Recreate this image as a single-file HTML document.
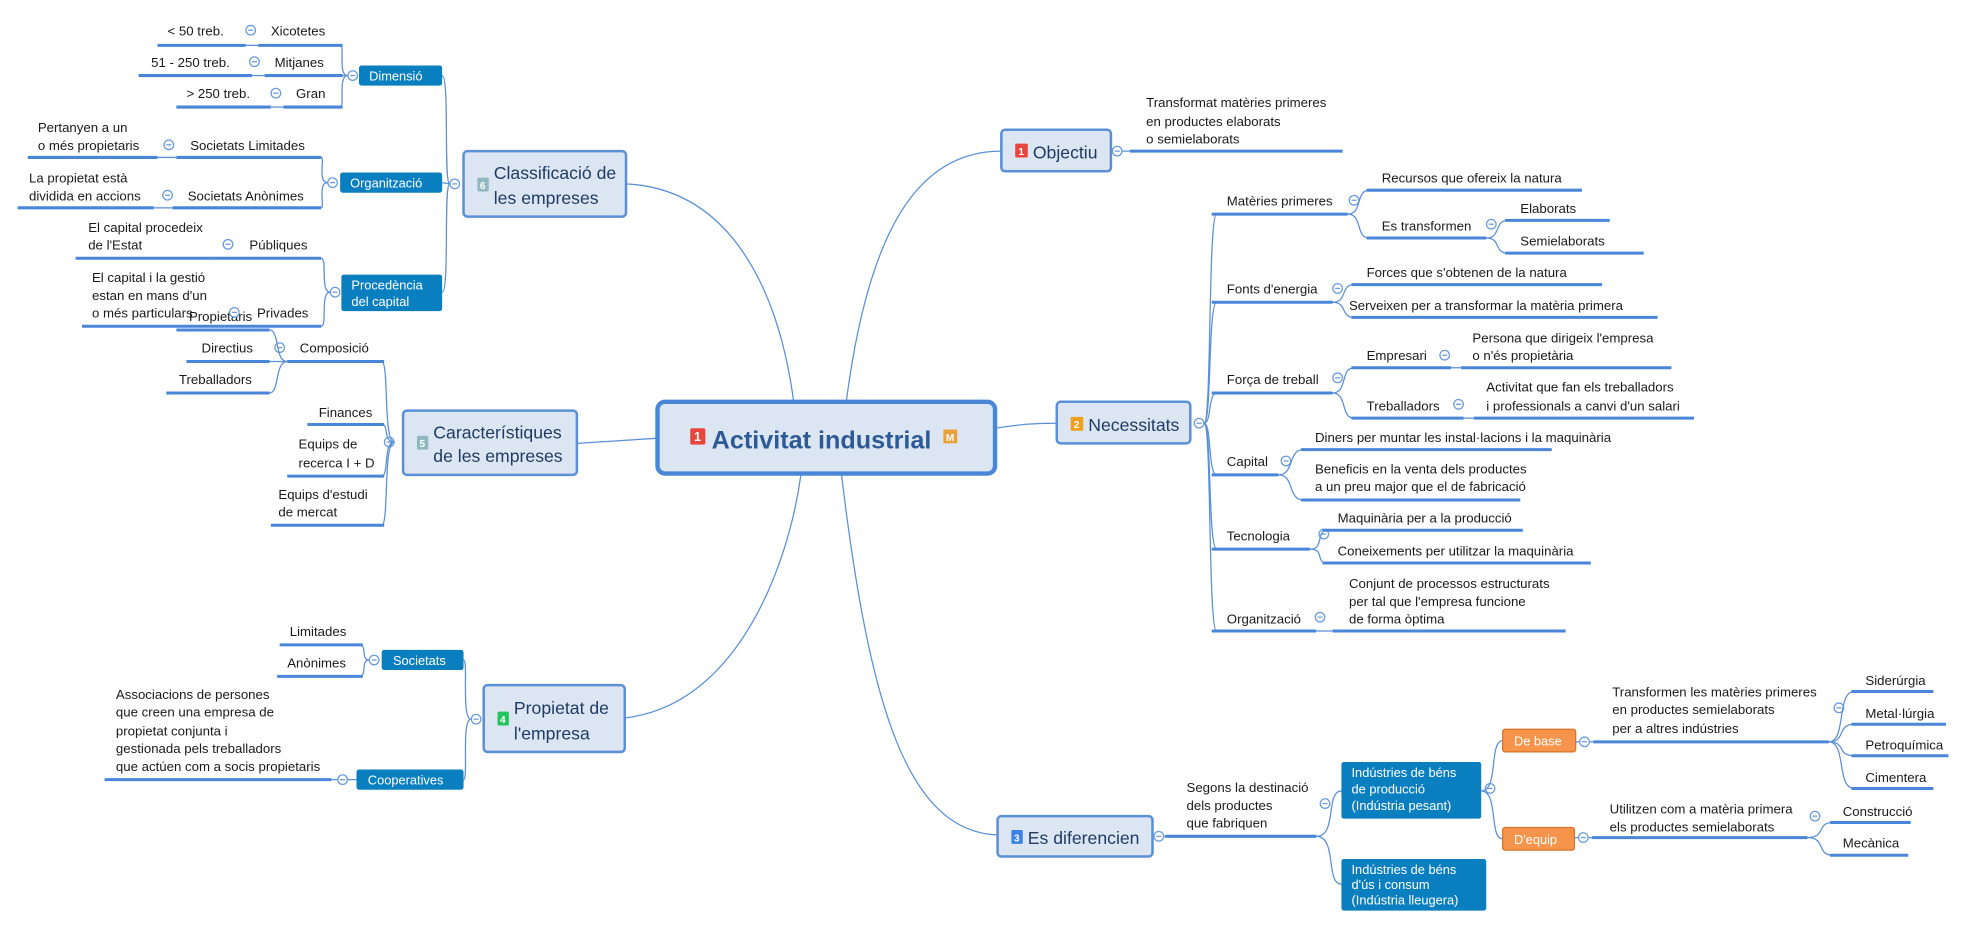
<!DOCTYPE html>
<html><head><meta charset="utf-8"><style>
html,body{margin:0;padding:0;background:#fff;}
svg{display:block;}
text{font-family:"Liberation Sans",sans-serif;font-size:10.5px;fill:#1a1a1a;}
.t{font-size:14px;fill:#1f3b63;}
.w{fill:#fff;font-size:10.2px;}
.b{font-size:8px;fill:#fff;font-weight:bold;}
.u{stroke:#4a86d8;stroke-width:2.4;fill:none;}
.c{stroke:#5b8fd6;stroke-width:1;fill:none;}
.box{fill:#dce6f2;stroke:#5b8fd6;stroke-width:2;}
.sb{fill:#0a7fc0;}
.ob{fill:#f5944a;stroke:#d9742a;stroke-width:1;}
.ci{fill:#fff;stroke:#6a9ad8;stroke-width:1;}
</style></head><body>
<svg width="1975" height="927" viewBox="0 0 1568 736" xmlns="http://www.w3.org/2000/svg">
<defs>
<g id="cir"><circle r="3.8" class="ci"/><line x1="-2" y1="0" x2="2" y2="0" stroke="#6a9ad8" stroke-width="1"/></g>
</defs>

<path class="c" d="M497,146 C580,150 618,230 630,318"/>
<path class="c" d="M672,318 C690,180 730,120 795,120"/>
<path class="c" d="M496,570 C585,560 626,450 636,376"/>
<path class="c" d="M668,376 C690,560 720,660 792,663"/>
<path class="c" d="M458,352 L521,348"/>
<path class="c" d="M790,340 C810,337 820,336 839,336"/>

<rect x="522" y="319" width="268" height="57" rx="6" fill="#dce6f2" stroke="#4a86d8" stroke-width="3.5"/>
<rect x="548" y="340" width="12" height="13" rx="1.5" fill="#e8453c"/><text x="551" y="350" class="b" style="font-size:10px">1</text>
<text x="565" y="356" style="font-size:20px;font-weight:bold;fill:#2e5a96">Activitat industrial</text>
<rect x="749" y="341" width="11" height="11" fill="#e9a23b"/><text x="751" y="350" class="b">M</text>

<rect x="795" y="103" width="87" height="33" rx="3" class="box"/>
<rect x="806" y="114" width="10" height="11" rx="1" fill="#e8453c"/><text x="808.5" y="123" class="b">1</text>
<text x="820" y="126" class="t">Objectiu</text>
<line class="c" x1="882" y1="120" x2="897" y2="120"/><use href="#cir" x="887" y="120"/>
<line class="u" x1="897" y1="120" x2="1066" y2="120"/>
<text x="910" y="85">Transformat matèries primeres</text>
<text x="910" y="100">en productes elaborats</text>
<text x="910" y="114">o semielaborats</text>

<rect x="839" y="319" width="106" height="33" rx="3" class="box"/>
<rect x="850" y="331" width="10" height="11" rx="1" fill="#f0a020"/><text x="852.5" y="340" class="b">2</text>
<text x="864" y="342" class="t">Necessitats</text>
<use href="#cir" x="952" y="336"/>
<path class="c" d="M956,336 C962,336 959,170 966,170"/>
<path class="c" d="M956,336 C962,336 959,240 966,240"/>
<path class="c" d="M956,336 C962,336 959,312 966,312"/>
<path class="c" d="M956,336 C962,336 959,377 966,377"/>
<path class="c" d="M956,336 C962,336 959,436 966,436"/>
<path class="c" d="M956,336 C962,336 959,501 966,501"/>

<text x="974" y="163">Matèries primeres</text><line class="u" x1="962" y1="170" x2="1070" y2="170"/><use href="#cir" x="1075" y="159"/>
<path class="c" d="M1070,170 C1082,170 1076,151 1087,151"/><path class="c" d="M1070,170 C1082,170 1076,189 1087,189"/>
<text x="1097" y="145">Recursos que ofereix la natura</text><line class="u" x1="1085" y1="151" x2="1256" y2="151"/>
<text x="1097" y="183">Es transformen</text><line class="u" x1="1085" y1="189" x2="1180" y2="189"/><use href="#cir" x="1184" y="178"/>
<path class="c" d="M1180,189 C1192,189 1186,175 1197,175"/><path class="c" d="M1180,189 C1192,189 1186,201 1197,201"/>
<text x="1207" y="169">Elaborats</text><line class="u" x1="1195" y1="175" x2="1278" y2="175"/>
<text x="1207" y="195">Semielaborats</text><line class="u" x1="1195" y1="201" x2="1305" y2="201"/>

<text x="974" y="233">Fonts d'energia</text><line class="u" x1="962" y1="240" x2="1058" y2="240"/><use href="#cir" x="1062" y="229"/>
<path class="c" d="M1058,240 C1070,240 1064,226 1075,226"/><path class="c" d="M1058,240 C1070,240 1064,252 1075,252"/>
<text x="1085" y="220">Forces que s'obtenen de la natura</text><line class="u" x1="1073" y1="226" x2="1272" y2="226"/>
<text x="1071" y="246">Serveixen per a transformar la matèria primera</text><line class="u" x1="1073" y1="252" x2="1316" y2="252"/>

<text x="974" y="305">Força de treball</text><line class="u" x1="962" y1="312" x2="1058" y2="312"/><use href="#cir" x="1062" y="300"/>
<path class="c" d="M1058,312 C1070,312 1064,292 1075,292"/><path class="c" d="M1058,312 C1070,312 1064,332 1075,332"/>
<text x="1085" y="286">Empresari</text><line class="u" x1="1073" y1="292" x2="1152" y2="292"/><use href="#cir" x="1147" y="282"/>
<line class="c" x1="1152" y1="292" x2="1160" y2="292"/>
<text x="1169" y="272">Persona que dirigeix l'empresa</text><text x="1169" y="286">o n'és propietària</text><line class="u" x1="1160" y1="292" x2="1327" y2="292"/>
<text x="1085" y="326">Treballadors</text><line class="u" x1="1073" y1="332" x2="1162" y2="332"/><use href="#cir" x="1158" y="321"/>
<line class="c" x1="1162" y1="332" x2="1170" y2="332"/>
<text x="1180" y="311">Activitat que fan els treballadors</text><text x="1180" y="326">i professionals a canvi d'un salari</text><line class="u" x1="1170" y1="332" x2="1345" y2="332"/>

<text x="974" y="370">Capital</text><line class="u" x1="962" y1="377" x2="1015" y2="377"/><use href="#cir" x="1021" y="366"/>
<path class="c" d="M1015,377 C1028,377 1022,357 1035,357"/><path class="c" d="M1015,377 C1028,377 1022,397 1035,397"/>
<text x="1044" y="351">Diners per muntar les instal·lacions i la maquinària</text><line class="u" x1="1033" y1="357" x2="1232" y2="357"/>
<text x="1044" y="376">Beneficis en la venta dels productes</text><text x="1044" y="390">a un preu major que el de fabricació</text><line class="u" x1="1033" y1="397" x2="1207" y2="397"/>

<text x="974" y="429">Tecnologia</text><line class="u" x1="962" y1="436" x2="1040" y2="436"/><use href="#cir" x="1051" y="424"/>
<path class="c" d="M1040,436 C1052,436 1044,421 1054,421"/><path class="c" d="M1040,436 C1052,436 1044,447 1054,447"/>
<text x="1062" y="415">Maquinària per a la producció</text><line class="u" x1="1050" y1="421" x2="1209" y2="421"/>
<text x="1062" y="441">Coneixements per utilitzar la maquinària</text><line class="u" x1="1050" y1="447" x2="1263" y2="447"/>

<text x="974" y="495">Organització</text><line class="u" x1="962" y1="501" x2="1045" y2="501"/><use href="#cir" x="1048" y="490"/>
<line class="c" x1="1045" y1="501" x2="1058" y2="501"/>
<text x="1071" y="467">Conjunt de processos estructurats</text><text x="1071" y="481">per tal que l'empresa funcione</text><text x="1071" y="495">de forma òptima</text>
<line class="u" x1="1058" y1="501" x2="1243" y2="501"/>

<rect x="792" y="648" width="123" height="32" rx="3" class="box"/>
<rect x="803" y="659" width="9" height="11" rx="1" fill="#3b82e8"/><text x="805" y="668" class="b">3</text>
<text x="816" y="670" class="t">Es diferencien</text>
<line class="c" x1="915" y1="664" x2="925" y2="664"/><use href="#cir" x="920" y="664"/>
<text x="942" y="629">Segons la destinació</text><text x="942" y="643">dels productes</text><text x="942" y="657">que fabriquen</text>
<line class="u" x1="925" y1="664" x2="1045" y2="664"/><use href="#cir" x="1052" y="638"/>
<path class="c" d="M1045,664 C1062,664 1052,628 1065,628"/><path class="c" d="M1045,664 C1062,664 1052,702 1065,702"/>
<rect x="1065" y="605" width="111" height="45" rx="2" class="sb"/>
<text x="1073" y="617" class="w">Indústries de béns</text><text x="1073" y="630" class="w">de producció</text><text x="1073" y="643" class="w">(Indústria pesant)</text>
<rect x="1065" y="682" width="115" height="41" rx="2" class="sb"/>
<text x="1073" y="694" class="w">Indústries de béns</text><text x="1073" y="706" class="w">d'ús i consum</text><text x="1073" y="718" class="w">(Indústria lleugera)</text>
<use href="#cir" x="1183" y="626"/>
<path class="c" d="M1176,628 C1190,628 1182,588 1193,588"/><path class="c" d="M1176,628 C1190,628 1182,666 1193,666"/>
<rect x="1193" y="579" width="58" height="18" rx="2" class="ob"/><text x="1202" y="592" class="w">De base</text>
<rect x="1193" y="657" width="57" height="18" rx="2" class="ob"/><text x="1202" y="670" class="w">D'equip</text>
<line class="c" x1="1251" y1="589" x2="1265" y2="589"/><use href="#cir" x="1258" y="589"/>
<line class="u" x1="1265" y1="589" x2="1452" y2="589"/>
<text x="1280" y="553">Transformen les matèries primeres</text><text x="1280" y="567">en productes semielaborats</text><text x="1280" y="582">per a altres indústries</text>
<use href="#cir" x="1460" y="562"/>
<path class="c" d="M1452,589 C1466,589 1458,549 1472,549"/><path class="c" d="M1452,589 C1466,589 1458,575 1472,575"/>
<path class="c" d="M1452,589 C1466,589 1458,600 1472,600"/><path class="c" d="M1452,589 C1466,589 1458,626 1472,626"/>
<text x="1481" y="544">Siderúrgia</text><line class="u" x1="1470" y1="549" x2="1535" y2="549"/>
<text x="1481" y="570">Metal·lúrgia</text><line class="u" x1="1470" y1="575" x2="1545" y2="575"/>
<text x="1481" y="595">Petroquímica</text><line class="u" x1="1470" y1="600" x2="1547" y2="600"/>
<text x="1481" y="621">Cimentera</text><line class="u" x1="1470" y1="626" x2="1535" y2="626"/>
<line class="c" x1="1250" y1="665" x2="1264" y2="665"/><use href="#cir" x="1257" y="665"/>
<line class="u" x1="1264" y1="665" x2="1435" y2="665"/>
<text x="1278" y="646">Utilitzen com a matèria primera</text><text x="1278" y="660">els productes semielaborats</text>
<use href="#cir" x="1441" y="648"/>
<path class="c" d="M1435,665 C1450,665 1442,653 1455,653"/><path class="c" d="M1435,665 C1450,665 1442,679 1455,679"/>
<text x="1463" y="648">Construcció</text><line class="u" x1="1453" y1="653" x2="1517" y2="653"/>
<text x="1463" y="673">Mecànica</text><line class="u" x1="1453" y1="679" x2="1515" y2="679"/>

<rect x="384" y="544" width="112" height="53" rx="3" class="box"/>
<rect x="395" y="565" width="9" height="11" rx="1" fill="#22c55e"/><text x="397" y="574" class="b">4</text>
<text x="408" y="567" class="t">Propietat de</text><text x="408" y="587" class="t">l'empresa</text>
<use href="#cir" x="378" y="571"/>
<path class="c" d="M374,571 C366,571 372,524 368,524"/><path class="c" d="M374,571 C366,571 372,619 368,619"/>
<rect x="303" y="516" width="65" height="16" rx="2" class="sb"/><text x="312" y="528" class="w">Societats</text>
<rect x="283" y="611" width="85" height="16" rx="2" class="sb"/><text x="292" y="623" class="w">Cooperatives</text>
<use href="#cir" x="297" y="524"/>
<path class="c" d="M293,524 C286,524 292,512 285,512"/><path class="c" d="M293,524 C286,524 292,537 285,537"/>
<text x="230" y="505">Limitades</text><line class="u" x1="222" y1="512" x2="288" y2="512"/>
<text x="228" y="530">Anònimes</text><line class="u" x1="220" y1="537" x2="288" y2="537"/>
<line class="c" x1="263" y1="619" x2="283" y2="619"/><use href="#cir" x="272" y="619"/>
<line class="u" x1="83" y1="619" x2="263" y2="619"/>
<text x="92" y="555">Associacions de persones</text><text x="92" y="569">que creen una empresa de</text><text x="92" y="584">propietat conjunta i</text><text x="92" y="598">gestionada pels treballadors</text><text x="92" y="612">que actúen com a socis propietaris</text>

<rect x="320" y="326" width="138" height="51" rx="3" class="box"/>
<rect x="331" y="346" width="9" height="11" rx="1" fill="#8fb8c0"/><text x="333" y="355" class="b">5</text>
<text x="344" y="348" class="t">Característiques</text><text x="344" y="367" class="t">de les empreses</text>
<use href="#cir" x="309" y="351"/>
<path class="c" d="M313,351 C304,351 309,287 303,287"/><path class="c" d="M313,351 C304,351 309,337 303,337"/>
<path class="c" d="M313,351 C304,351 309,378 303,378"/><path class="c" d="M313,351 C304,351 309,417 303,417"/>
<text x="238" y="280">Composició</text><line class="u" x1="228" y1="287" x2="305" y2="287"/><use href="#cir" x="222" y="276"/>
<path class="c" d="M228,287 C218,287 222,262 214,262"/><path class="c" d="M228,287 L214,287"/><path class="c" d="M228,287 C218,287 222,312 214,312"/>
<text x="150" y="255">Propietaris</text><line class="u" x1="140" y1="262" x2="214" y2="262"/>
<text x="160" y="280">Directius</text><line class="u" x1="148" y1="287" x2="214" y2="287"/>
<text x="142" y="305">Treballadors</text><line class="u" x1="132" y1="312" x2="214" y2="312"/>
<text x="253" y="331">Finances</text><line class="u" x1="244" y1="337" x2="305" y2="337"/>
<text x="237" y="356">Equips de</text><text x="237" y="371">recerca I + D</text><line class="u" x1="228" y1="378" x2="305" y2="378"/>
<text x="221" y="396">Equips d'estudi</text><text x="221" y="410">de mercat</text><line class="u" x1="215" y1="417" x2="305" y2="417"/>

<rect x="368" y="120" width="129" height="52" rx="3" class="box"/>
<rect x="379" y="141" width="9" height="11" rx="1" fill="#8fb8c0"/><text x="381" y="150" class="b">6</text>
<text x="392" y="142" class="t">Classificació de</text><text x="392" y="162" class="t">les empreses</text>
<use href="#cir" x="361" y="146"/>
<path class="c" d="M357,146 C352,146 357,60 351,60"/><path class="c" d="M357,146 L351,145"/><path class="c" d="M357,146 C352,146 357,232 351,232"/>
<rect x="285" y="52" width="66" height="16" rx="2" class="sb"/><text x="293" y="64" class="w">Dimensió</text>
<rect x="270" y="137" width="81" height="16" rx="2" class="sb"/><text x="278" y="149" class="w">Organització</text>
<rect x="271" y="218" width="80" height="29" rx="2" class="sb"/><text x="279" y="230" class="w">Procedència</text><text x="279" y="243" class="w">del capital</text>
<use href="#cir" x="280" y="60"/>
<path class="c" d="M276,60 C268,60 274,36 270,36"/><path class="c" d="M276,60 L270,60"/><path class="c" d="M276,60 C268,60 274,85 270,85"/>
<text x="215" y="28">Xicotetes</text><line class="u" x1="205" y1="36" x2="272" y2="36"/><use href="#cir" x="199" y="24"/>
<line class="c" x1="195" y1="36" x2="205" y2="36"/>
<text x="133" y="28">&lt; 50 treb.</text><line class="u" x1="125" y1="36" x2="195" y2="36"/>
<text x="218" y="53">Mitjanes</text><line class="u" x1="210" y1="60" x2="272" y2="60"/><use href="#cir" x="202" y="49"/>
<line class="c" x1="200" y1="60" x2="210" y2="60"/>
<text x="120" y="53">51 - 250 treb.</text><line class="u" x1="110" y1="60" x2="200" y2="60"/>
<text x="235" y="78">Gran</text><line class="u" x1="225" y1="85" x2="272" y2="85"/><use href="#cir" x="219" y="74"/>
<line class="c" x1="215" y1="85" x2="225" y2="85"/>
<text x="148" y="78">&gt; 250 treb.</text><line class="u" x1="140" y1="85" x2="215" y2="85"/>

<use href="#cir" x="264" y="145"/>
<path class="c" d="M260,145 C252,145 258,125 255,125"/><path class="c" d="M260,145 C252,145 258,165 255,165"/>
<text x="151" y="119">Societats Limitades</text><line class="u" x1="140" y1="125" x2="255" y2="125"/><use href="#cir" x="134" y="115"/>
<line class="c" x1="125" y1="125" x2="140" y2="125"/>
<text x="30" y="105">Pertanyen a un</text><text x="30" y="119">o més propietaris</text><line class="u" x1="22" y1="125" x2="125" y2="125"/>
<text x="149" y="159">Societats Anònimes</text><line class="u" x1="137" y1="165" x2="255" y2="165"/><use href="#cir" x="133" y="155"/>
<line class="c" x1="122" y1="165" x2="137" y2="165"/>
<text x="23" y="145">La propietat està</text><text x="23" y="159">dividida en accions</text><line class="u" x1="14" y1="165" x2="122" y2="165"/>

<use href="#cir" x="266" y="232"/>
<path class="c" d="M262,232 C254,232 260,205 255,205"/><path class="c" d="M262,232 C254,232 260,259 255,259"/>
<text x="198" y="198">Públiques</text><line class="u" x1="170" y1="205" x2="255" y2="205"/><use href="#cir" x="181" y="194"/>
<text x="70" y="184">El capital procedeix</text><text x="70" y="198">de l'Estat</text><line class="u" x1="60" y1="205" x2="170" y2="205"/>
<text x="204" y="252">Privades</text><line class="u" x1="178" y1="259" x2="255" y2="259"/><use href="#cir" x="186" y="248"/>
<text x="73" y="224">El capital i la gestió</text><text x="73" y="238">estan en mans d'un</text><text x="73" y="252">o més particulars</text><line class="u" x1="65" y1="259" x2="178" y2="259"/>
</svg>
</body></html>
